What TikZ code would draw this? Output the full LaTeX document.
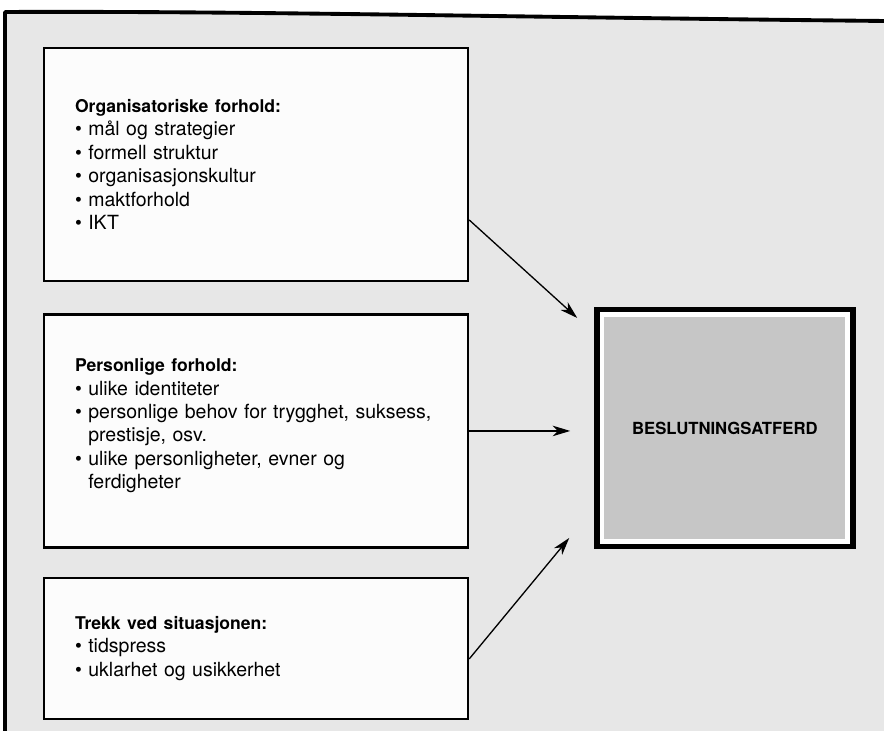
\documentclass[tikz,border=0pt]{standalone}
\usepackage{fontspec}
\setmainfont{TeX Gyre Heros}
\usepackage{xcolor}
\usepackage{tikz}
\usetikzlibrary{arrows.meta, positioning}
\definecolor{panelgray}{RGB}{231, 231, 231}
\definecolor{boxwhite}{RGB}{252, 252, 252}
\definecolor{resultgray}{RGB}{198, 198, 198}
\newcommand{\pkt}{\textbullet\ }
\newcommand{\inn}{\phantom{\textbullet\ }}
\newcommand{\overskrift}[1]{{\fontsize{10}{13.3}\selectfont\bfseries #1}}

\begin{document}
\begin{tikzpicture}[
    node distance=0.62cm,
    box/.style={rectangle, draw=black, fill=boxwhite, line width=1.4pt, minimum width=8.48cm, text width=7.24cm, inner xsep=0.62cm, align=left, font=\fontsize{11.1}{13.3}\selectfont},
    result/.style={rectangle, draw=black, fill=white, line width=3pt, minimum width=5.12cm, minimum height=4.74cm, align=center, font=\fontsize{9.5}{11}\selectfont\bfseries,
        path picture={\fill[resultgray] ([shift={(4.3pt,4.3pt)}]path picture bounding box.south west) rectangle ([shift={(-4.3pt,-4.3pt)}]path picture bounding box.north east);}},
    arrow/.style={-{Stealth[length=10pt, width=6pt, inset=3pt]}, line width=0.75pt}
]
\useasboundingbox (0,0) rectangle (17.68,14.62);

% bakgrunn med ramme
\fill[white] (0,0) rectangle (17.68,14.62);
\fill[panelgray] (0.1,0) -- (0.1,14.38) .. controls (5,14.4) and (10,14.28) .. (17.68,14.2) -- (17.68,0) -- cycle;
\draw[line width=2.2pt, line join=round] (0.1,0) -- (0.1,14.38) .. controls (5,14.4) and (10,14.28) .. (17.68,14.2);

\node[box, minimum height=4.66cm] (org) at (5.12,11.33) {\overskrift{Organisatoriske forhold:}\\ \pkt mål og strategier\\ \pkt formell struktur\\ \pkt organisasjonskultur\\ \pkt maktforhold\\ \pkt IKT};

\node[box, minimum height=4.66cm, below=of org] (pers) {\overskrift{Personlige forhold:}\\ \pkt ulike identiteter\\ \pkt personlige behov for trygghet, suksess,\\ \inn prestisje, osv.\\ \pkt ulike personligheter, evner og\\ \inn ferdigheter\\[-5pt]\mbox{}};

\node[box, minimum height=2.82cm, below=0.56cm of pers] (sit) {\overskrift{Trekk ved situasjonen:}\\ \pkt tidspress\\ \pkt uklarhet og usikkerhet};

\node[result, right=2.5cm of pers, yshift=0.06cm] (beslut) {BESLUTNINGSATFERD};

\coordinate (tip1) at ([xshift=-0.34cm, yshift=2.2cm]beslut.west);
\coordinate (tip2) at ([xshift=-0.48cm]beslut.west);
\coordinate (tip3) at ([xshift=-0.5cm, yshift=-2.2cm]beslut.west);

\draw[arrow] ([yshift=-1.11cm]org.east) -- (tip1);
\draw[arrow] (pers.east) -- (pers.east -| tip2);
\draw[arrow] ([yshift=-0.21cm]sit.east) -- (tip3);
\end{tikzpicture}
\end{document}
